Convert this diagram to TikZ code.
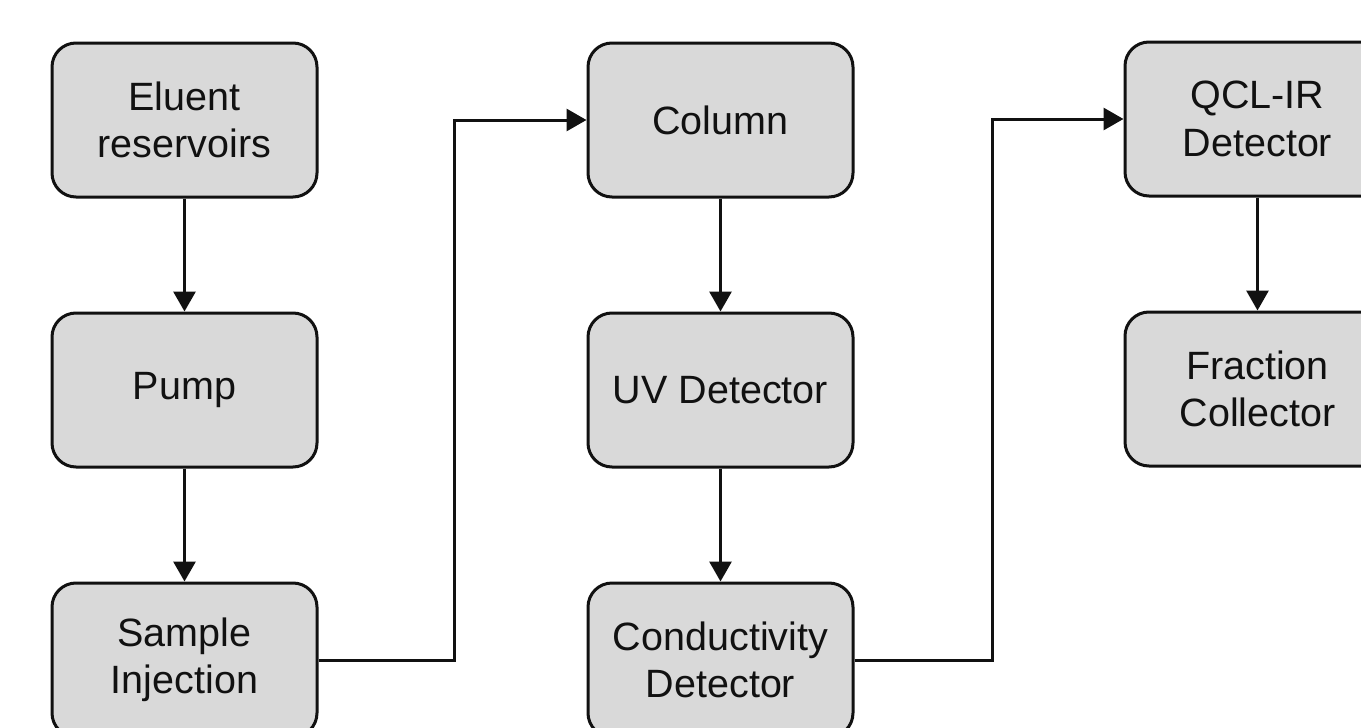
\documentclass[tikz,border=0pt]{standalone}
\usepackage{fontspec}
\setmainfont{Liberation Sans}
\usetikzlibrary{arrows.meta}
\definecolor{boxgray}{HTML}{D9D9D9}
\definecolor{ink}{HTML}{111111}
\tikzset{
  stage/.style={draw=ink, fill=boxgray, line width=3pt, rounded corners=24pt,
    minimum width=265pt, minimum height=154pt, align=center, inner sep=0pt,
    font=\fontsize{39.5}{47.5}\selectfont, text=ink},
  flow/.style={draw=ink, line width=3pt, -{Triangle[length=20pt,width=22pt]}}
}
\begin{document}
\begin{tikzpicture}[x=1pt,y=-1pt]
\clip (0,0) rectangle (1361,728);
\fill[white] (0,0) rectangle (1361,728);
\node[stage] (eluent) at (184.5,120) {Eluent\\reservoirs};
\node[stage] (pump) at (184.5,390) {Pump};
\node[stage] (sample) at (184.5,660) {Sample\\Injection};
\node[stage] (column) at (720.5,120) {Column};
\node[stage] (uv) at (720.5,390) {UV Detector};
\node[stage] (cond) at (720.5,660) {Conductivity\\Detector};
\node[stage] (qcl) at (1257.5,119) {QCL-IR\\Detector};
\node[stage] (frac) at (1257.5,389) {Fraction\\Collector};
\draw[flow] (eluent) -- (pump);
\draw[flow] (pump) -- (sample);
\draw[flow] (column) -- (uv);
\draw[flow] (uv) -- (cond);
\draw[flow] (qcl) -- (frac);
\draw[flow] (sample.east) -- ++(136,0) |- (column.west);
\draw[flow] (cond.east) -- ++(138,0) |- (qcl.west);
\end{tikzpicture}
\end{document}
